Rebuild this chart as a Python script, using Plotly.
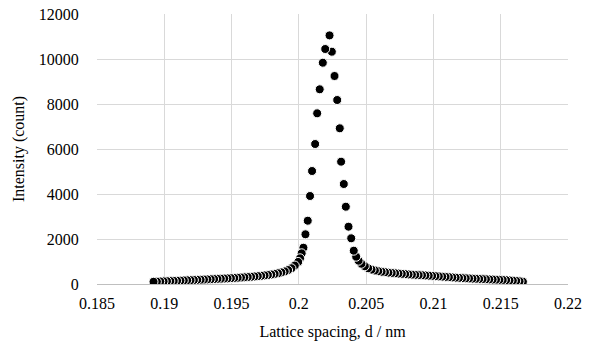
import plotly.graph_objects as go

# Lattice spacing d (nm) and intensity (count)
left_tail_d = [0.18920, 0.18945, 0.18970, 0.18995, 0.19020, 0.19045, 0.19070, 0.19095, 0.19120, 0.19145,
               0.19170, 0.19195, 0.19220, 0.19245, 0.19270, 0.19295, 0.19320, 0.19345, 0.19370, 0.19395,
               0.19420, 0.19445, 0.19470, 0.19495, 0.19520, 0.19545, 0.19570, 0.19595, 0.19620, 0.19645,
               0.19670, 0.19695, 0.19720, 0.19745, 0.19770, 0.19795, 0.19820, 0.19845, 0.19870, 0.19895,
               0.19920, 0.19945, 0.19970, 0.19995]
left_tail_i = [100, 105, 112, 118, 125, 130, 138, 145, 150, 158,
               165, 170, 178, 185, 190, 198, 205, 212, 220, 228,
               235, 242, 250, 260, 268, 278, 288, 298, 310, 322,
               335, 350, 365, 382, 400, 422, 448, 478, 515, 560,
               620, 700, 820, 980]

peak_d = [0.20009, 0.20021, 0.20034, 0.20049, 0.20066, 0.20083, 0.20098, 0.20121, 0.20136, 0.20155,
          0.20178, 0.20196, 0.20228, 0.20245, 0.20265, 0.20285, 0.20304, 0.20314, 0.20334, 0.20349,
          0.20369, 0.20389, 0.20408, 0.20426, 0.20444]
peak_i = [1142, 1364, 1613, 2209, 2813, 3911, 5022, 6222, 7586, 8653,
          9835, 10444, 11050, 10324, 9244, 8178, 6920, 5436, 4444, 3435,
          2547, 2031, 1480, 1213, 1035]

right_tail_d = [0.20465, 0.20490, 0.20515, 0.20540, 0.20565, 0.20590, 0.20615, 0.20640, 0.20665, 0.20690,
                0.20715, 0.20740, 0.20765, 0.20790, 0.20815, 0.20840, 0.20865, 0.20890, 0.20915, 0.20940,
                0.20965, 0.20990, 0.21015, 0.21040, 0.21065, 0.21090, 0.21115, 0.21140, 0.21165, 0.21190,
                0.21215, 0.21240, 0.21265, 0.21290, 0.21315, 0.21340, 0.21365, 0.21390, 0.21415, 0.21440,
                0.21465, 0.21490, 0.21515, 0.21540, 0.21565, 0.21590, 0.21615, 0.21640, 0.21665]
right_tail_i = [900, 790, 700, 640, 600, 570, 545, 525, 505, 490,
                475, 462, 450, 438, 426, 415, 405, 395, 388, 380,
                370, 360, 350, 338, 326, 315, 303, 292, 282, 272,
                262, 254, 246, 238, 231, 224, 217, 210, 204, 198,
                191, 185, 178, 170, 160, 150, 138, 120, 102]

x_tick_vals = [0.185, 0.19, 0.195, 0.2, 0.205, 0.21, 0.215, 0.22]
x_tick_text = ["0.185", "0.19", "0.195", "0.2", "0.205", "0.21", "0.215", "0.22"]
y_tick_vals = [0, 2000, 4000, 6000, 8000, 10000, 12000]
y_tick_text = ["0", "2000", "4000", "6000", "8000", "10000", "12000"]

d_all = left_tail_d + peak_d + right_tail_d
i_all = left_tail_i + peak_i + right_tail_i

serif = "Liberation Serif"
text_font = dict(family=serif, size=16, color="black")

fig = go.Figure()
fig.add_trace(go.Scatter(
    x=d_all[::-1], y=i_all[::-1], mode="markers",
    marker=dict(size=9, color="black", line=dict(color="white", width=1)),
    showlegend=False,
))

fig.update_layout(
    width=594, height=344,
    margin=dict(l=97, r=26, t=14, b=60),
    paper_bgcolor="white", plot_bgcolor="white",
    font=text_font,
)
fig.update_xaxes(
    range=[0.185, 0.22], tickvals=x_tick_vals, ticktext=x_tick_text,
    showgrid=True, gridcolor="#d9d9d9", gridwidth=1,
    showline=True, linecolor="#bfbfbf", linewidth=1,
    zeroline=False, ticks="outside", ticklen=5, tickcolor="rgba(0,0,0,0)",
    automargin=False, tickfont=text_font,
    title=dict(text="Lattice spacing, d / nm", standoff=14, font=text_font),
)
fig.update_yaxes(
    range=[0, 12000], tickvals=y_tick_vals, ticktext=y_tick_text,
    showgrid=True, gridcolor="#d9d9d9", gridwidth=1,
    showline=False, zeroline=False, ticks="outside", ticklen=14, tickcolor="rgba(0,0,0,0)",
    automargin=False, tickfont=text_font,
    title=dict(text="Intensity (count)", standoff=10, font=text_font),
)

fig.write_html("out.html")
